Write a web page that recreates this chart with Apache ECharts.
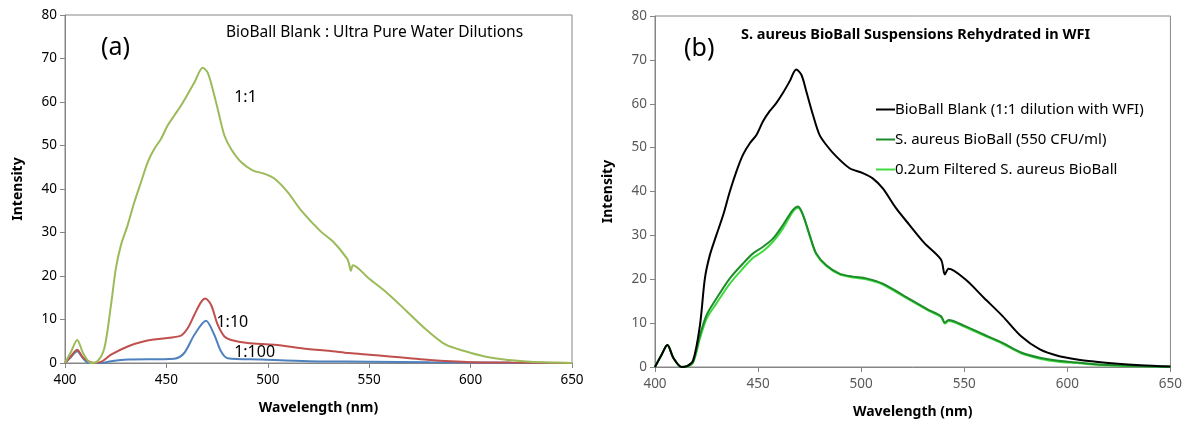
<!DOCTYPE html>
<html><head><meta charset="utf-8">
<script src="https://cdn.jsdelivr.net/npm/echarts@6/dist/echarts.min.js"></script>
<style>html,body{margin:0;padding:0;background:#fff}#c{width:1185px;height:427px}</style>
</head><body><div id="c"></div>
<script>
// ---- Panel (a): BioBall Blank : Ultra Pure Water dilutions ----
const aWl11 = [400,403,406,409,412.8,416,419.4,422.7,425.1,427.6,430.9,434.2,437.5,440.8,444,447.3,450.6,453.9,457.2,460.5,463.8,467.9,470.3,472.8,475.3,478.6,481.9,486.8,492.5,498.3,503.2,509.8,516.4,526.2,532.4,539.1,540,541,542,549.7,559.1,568.7,578.3,587.8,597.4,607,616.5,626,635.7,650];
const aInt11 = [0,2.6,5.3,2.2,0,0.4,3.4,13.4,21.8,27.1,31.7,37,41.6,46.2,49.2,51.5,54.6,56.9,59.2,61.8,64.5,67.9,66.8,63,58.4,52.3,49.2,46.2,44.3,43.5,42.4,39.3,35.1,30.2,27.8,24,22.9,21.2,22.5,19.5,16,11.8,7.6,4.2,2.7,1.5,0.8,0.4,0.15,0];
const aWl10 = [400,403,406,409,414.5,418,422.7,430.9,439.1,447.3,457.2,460.5,463.8,467.1,469.2,472,475.3,478.6,481.9,490,503.2,519.7,530,540,550,560,570,580,590,600,620,650];
const aInt10 = [0,1.6,3.05,1.2,0,0.3,1.9,3.8,5,5.6,6.3,8,11.1,14,14.8,13.4,8.8,6.1,5.3,4.6,4.2,3.2,2.8,2.3,1.9,1.5,1.1,0.7,0.4,0.2,0.1,0];
const aWl100 = [400,403,406,409,412,418,422.7,430.9,453.9,458.8,463.8,469.5,473.6,476.9,480.2,496.6,520,550,580,620,650];
const aInt100 = [0,1.4,2.7,1,0,0,0.4,0.8,1,2.3,6.5,9.7,6.5,2.7,1.1,0.8,0.4,0.3,0.15,0.05,0];
const aLabels = ['1:1', '1:10', '1:100'];

// ---- Panel (b): S. aureus BioBall suspensions rehydrated in WFI ----
const bWlBlank = [400,403,406,409,412.9,415.5,418.5,421.8,424.2,426.6,429.8,433.1,436.3,439.5,442.7,446,449.2,452.4,455.6,458.9,462.1,465.3,468.5,471,473.4,476.6,479.8,483.1,487.9,494.4,500.8,505.6,510.5,516.9,523.4,530.6,538.7,540.6,542.4,550.5,559.5,568.6,577.6,586.7,595.7,604.8,613.8,622.9,635.5,650];
const bIntBlank = [0,2.6,5,2,0,0.2,1.5,9.5,20.2,25.5,30.1,34.7,40,44.6,48.4,51,52.9,56,58.3,60.2,62.5,65.1,67.8,66.6,62.8,57.5,52.9,50.6,48,45.3,44.2,43,40.7,36.2,32.4,28.3,24.5,21.1,22.4,20,15.8,11.6,7,4,2.5,1.7,1.2,0.8,0.4,0.1];
const bWlAureus = [400,403,406,409,412.9,415.5,418.5,421.8,425,429.8,436.3,442.7,447.6,452.4,457.3,462.1,466.9,469.4,471.8,475,478.2,483.1,489.5,496,502.4,510.5,520.2,532.4,538.7,540.6,542.4,550.5,559.5,568.6,577.6,586.7,595.7,604.8,617.4,635.5,650];
const bIntAureus = [0,2.6,5,2,0,0.1,1.2,7.2,11.8,15.6,20.2,23.6,25.9,27.4,29.3,32.4,35.8,36.6,34.7,30.1,25.9,23.2,21.3,20.6,20.2,19,16.4,13.1,11.6,10.1,10.7,9.3,7.4,5.5,3.3,2.1,1.4,1,0.5,0.2,0.05];
const bIntFiltered = [0,2.6,5,2,0,0.1,1,6.5,11,14.5,19,22.5,24.9,26.4,28.6,31.6,35.4,36.3,34.5,29.9,25.7,23,21.1,20.4,20,18.8,16.2,12.9,11.4,9.9,10.5,9.1,7.2,5.3,3.1,1.9,1.2,0.9,0.4,0.15,0.03];
const bNames = ['BioBall Blank (1:1 dilution with WFI)', 'S. aureus BioBall (550 CFU/ml)', '0.2um Filtered S. aureus BioBall'];

const xTicks = [400,450,500,550,600,650];
const yTicks = [0,10,20,30,40,50,60,70,80];

const zip = (xs, ys) => xs.map((x, i) => [x, ys[i]]);
const FONT = '"Noto Sans", "Open Sans", sans-serif';

function xAxisOpt(gi, color) {
  return {
    type: 'value', gridIndex: gi, min: xTicks[0], max: xTicks[xTicks.length - 1], interval: 50,
    name: 'Wavelength (nm)', nameLocation: 'middle', nameGap: 38,
    nameTextStyle: {fontFamily: FONT, fontSize: 14, fontWeight: 'bold', color: '#000'},
    axisLine: {lineStyle: {color: '#868686'}},
    axisTick: {show: true, length: 5, lineStyle: {color: '#868686'}},
    axisLabel: {fontFamily: FONT, fontSize: 13.5, color: color, margin: 10},
    splitLine: {show: false}
  };
}
function yAxisOpt(gi, color) {
  return {
    type: 'value', gridIndex: gi, min: yTicks[0], max: yTicks[yTicks.length - 1], interval: 10,
    name: 'Intensity', nameLocation: 'middle', nameGap: 40, nameRotate: 90,
    nameTextStyle: {fontFamily: FONT, fontSize: 14, fontWeight: 'bold', color: '#000'},
    axisLine: {show: true, lineStyle: {color: '#868686'}},
    axisTick: {show: true, length: 5, lineStyle: {color: '#868686'}},
    axisLabel: {fontFamily: FONT, fontSize: 13.5, color: color, margin: 8},
    splitLine: {show: false}
  };
}
function line(name, data, color, gi, extra) {
  return Object.assign({
    name, type: 'line', xAxisIndex: gi, yAxisIndex: gi, data,
    symbol: 'none', smooth: 0.3, lineStyle: {color, width: 2}, itemStyle: {color},
    emphasis: {disabled: true}, z: 3
  }, extra || {});
}
function labelPoint(text, coord) {
  return {
    silent: true,
    symbol: 'circle', symbolSize: 1,
    itemStyle: {color: 'rgba(0,0,0,0)'},
    label: {show: true, position: 'inside', fontFamily: FONT, fontSize: 16, color: '#000', formatter: text},
    data: [{coord, value: text}]
  };
}

const chart = echarts.init(document.getElementById('c'), null, {renderer: 'canvas'});
chart.setOption({
  animation: false,
  backgroundColor: '#fff',
  title: [
    {text: 'BioBall Blank : Ultra Pure Water Dilutions', left: 221, top: 20,
     textStyle: {fontFamily: FONT, fontSize: 15.5, fontWeight: 'normal', color: '#000'}},
    {text: '(a)', left: 96, top: 30, textStyle: {fontFamily: FONT, fontSize: 25, fontWeight: 'normal', color: '#000'}},
    {text: 'S. aureus BioBall Suspensions Rehydrated in WFI', left: 736, top: 22,
     textStyle: {fontFamily: FONT, fontSize: 14.5, fontWeight: 'bold', color: '#000'}},
    {text: '(b)', left: 679, top: 31, textStyle: {fontFamily: FONT, fontSize: 25, fontWeight: 'normal', color: '#000'}}
  ],
  legend: {
    data: bNames.map(n => ({name: n, icon: 'rect'})),
    orient: 'vertical', left: 871, top: 97, itemWidth: 19, itemHeight: 2, itemGap: 15,
    textStyle: {fontFamily: FONT, fontSize: 15, color: '#000', padding: [0, 0, 0, -5]},
    selectedMode: false
  },
  grid: [
    {left: 65, top: 15, width: 507, height: 348, show: true, borderColor: '#868686', borderWidth: 1, backgroundColor: 'transparent'},
    {left: 655, top: 16, width: 517, height: 351, show: true, borderColor: '#868686', borderWidth: 1, backgroundColor: 'transparent'}
  ],
  xAxis: [xAxisOpt(0, '#000'), xAxisOpt(1, '#595959')],
  yAxis: [yAxisOpt(0, '#000'), yAxisOpt(1, '#595959')],
  series: [
    line(aLabels[2], zip(aWl100, aInt100), '#4F81BD', 0, {markPoint: labelPoint(aLabels[2], [493.5, 2.5])}),
    line(aLabels[1], zip(aWl10, aInt10), '#C0504D', 0, {markPoint: labelPoint(aLabels[1], [482.5, 9.3])}),
    line(aLabels[0], zip(aWl11, aInt11), '#9BBB59', 0, {markPoint: labelPoint(aLabels[0], [489, 61])}),
    line(bNames[2], zip(bWlAureus, bIntFiltered), '#3EDB3E', 1),
    line(bNames[1], zip(bWlAureus, bIntAureus), '#1E8C2A', 1),
    line(bNames[0], zip(bWlBlank, bIntBlank), '#000000', 1)
  ]
});
</script>
</body></html>
